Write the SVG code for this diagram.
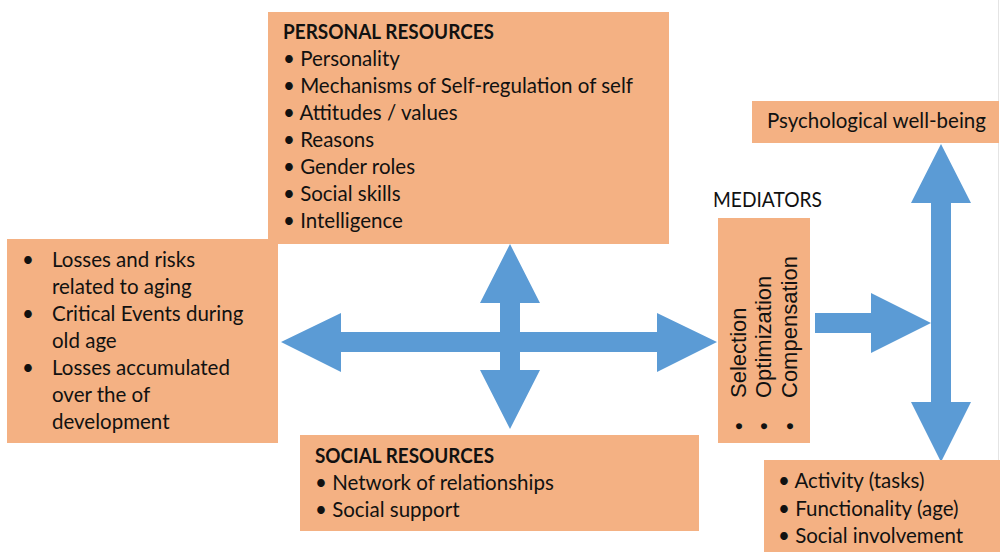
<svg xmlns="http://www.w3.org/2000/svg" width="1000" height="552" viewBox="0 0 1000 552">
  <style>
    .box { fill: #F4B183; }
    .arrow { fill: #5B9BD5; }
    .t { font-family: Lato, "Liberation Sans", sans-serif; font-size: 20.5px; fill: #111; }
    .b { font-weight: bold; }
    .rot { font-family: "Liberation Sans", Arial, sans-serif; font-size: 22px; fill: #111; }
  </style>

  <rect width="1000" height="552" fill="#ffffff"/>
  <line x1="998.5" y1="0" x2="998.5" y2="552" stroke="#e4e4e4" stroke-width="1"/>

  <!-- connectors -->
  <g id="connectors">
    <!-- four-way cross between resources -->
    <polygon class="arrow" points="281,342 341,313 341,332 500,332 500,303 480,303 510,244 540,303 520,303 520,332 657,332 657,313 717,342 657,372 657,352 520,352 520,370 540,370 510,429 480,370 500,370 500,352 341,352 341,372"/>
    <!-- mediators to outcome axis -->
    <polygon class="arrow" points="815,313 871,313 871,293 931,323 871,353 871,333 815,333"/>
    <!-- vertical outcome axis -->
    <polygon class="arrow" points="941,144 971,203 951,203 951,402 971,402 941,462 911,402 931,402 931,203 911,203"/>
  </g>

  <g id="personal-resources">
    <rect class="box" x="268" y="12" width="401" height="232"/>
    <text class="t b" x="283" y="39" textLength="211" lengthAdjust="spacingAndGlyphs">PERSONAL RESOURCES</text>
    <text class="t" x="283" y="66">• Personality</text>
    <text class="t" x="283" y="93">• Mechanisms of Self-regulation of self</text>
    <text class="t" x="283" y="120">• Attitudes / values</text>
    <text class="t" x="283" y="147">• Reasons</text>
    <text class="t" x="283" y="174">• Gender roles</text>
    <text class="t" x="283" y="201">• Social skills</text>
    <text class="t" x="283" y="228">• Intelligence</text>
  </g>

  <g id="losses">
    <rect class="box" x="7" y="239" width="271" height="204"/>
    <text class="t" x="22" y="267">•</text>
    <text class="t" x="52" y="267">Losses and risks</text>
    <text class="t" x="52" y="294">related to aging</text>
    <text class="t" x="22" y="321">•</text>
    <text class="t" x="52" y="321">Critical Events during</text>
    <text class="t" x="52" y="348">old age</text>
    <text class="t" x="22" y="375">•</text>
    <text class="t" x="52" y="375">Losses accumulated</text>
    <text class="t" x="52" y="402">over the of</text>
    <text class="t" x="52" y="429">development</text>
  </g>

  <g id="social-resources">
    <rect class="box" x="300" y="435" width="399" height="96"/>
    <text class="t b" x="315" y="463" textLength="179" lengthAdjust="spacingAndGlyphs">SOCIAL RESOURCES</text>
    <text class="t" x="315" y="490">• Network of relationships</text>
    <text class="t" x="315" y="517">• Social support</text>
  </g>

  <g id="mediators">
    <text class="t" x="713" y="207" textLength="109" lengthAdjust="spacingAndGlyphs">MEDIATORS</text>
    <rect class="box" x="718" y="218" width="92" height="225"/>
    <text class="rot" transform="translate(746,398) rotate(-90)">Selection</text>
    <text class="rot" transform="translate(771,398) rotate(-90)">Optimization</text>
    <text class="rot" transform="translate(797,398) rotate(-90)">Compensation</text>
    <text class="rot" transform="translate(746,430) rotate(-90)">•</text>
    <text class="rot" transform="translate(771,430) rotate(-90)">•</text>
    <text class="rot" transform="translate(797,430) rotate(-90)">•</text>
  </g>

  <g id="well-being">
    <rect class="box" x="752" y="101" width="247" height="42"/>
    <text class="t" x="767" y="128">Psychological well-being</text>
  </g>

  <g id="outcomes">
    <rect class="box" x="764" y="460" width="236" height="92"/>
    <text class="t" x="778" y="488">• Activity (tasks)</text>
    <text class="t" x="778" y="516">• Functionality (age)</text>
    <text class="t" x="778" y="543">• Social involvement</text>
  </g>
</svg>
